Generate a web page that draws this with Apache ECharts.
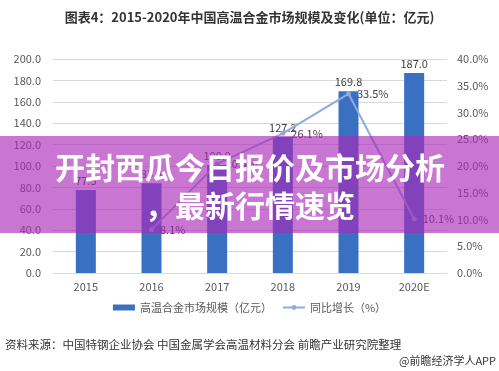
<!DOCTYPE html>
<html><head><meta charset="utf-8">
<script src="https://cdn.jsdelivr.net/npm/echarts@6/dist/echarts.min.js"></script>
<style>html,body{margin:0;padding:0;background:#fff}#c{width:499px;height:371px}</style>
</head><body><div id="c"></div>
<script>
const categories = ['2015','2016','2017','2018','2019','2020E'];
const marketSize = [77.5, 83.8, 100.9, 127.2, 169.8, 187.0];
const growth = [null, 8.1, 20.4, 26.1, 33.5, 10.1];
const leftTicks = {min:0, max:200, interval:20};
const rightTicks = {min:0, max:40, interval:5};
const titleText = '图表4：2015-2020年中国高温合金市场规模及变化(单位：亿元)';
const sourceText = '资料来源：中国特钢企业协会 中国金属学会高温材料分会 前瞻产业研究院整理';
const brandText = '@前瞻经济学人APP';
const bannerLines = ['开封西瓜今日报价及市场分析', '，最新行情速览'];

const font = '"Noto Sans CJK SC", "Noto Sans", sans-serif';
const chart = echarts.init(document.getElementById('c'), null, {renderer:'canvas'});
chart.setOption({
  animation:false,
  textStyle:{fontFamily:font},
  title:{text:titleText, left:'center', top:6, textStyle:{fontSize:13, fontWeight:'bold', color:'#333', fontFamily:font}},
  grid:{left:53, right:52, top:59, bottom:98},
  legend:{
    bottom:53, left:'center', itemGap:10, itemWidth:22, itemHeight:6,
    textStyle:{fontSize:11, color:'#595959'},
    data:[{name:'高温合金市场规模（亿元）', icon:'rect'}, {name:'同比增长（%）'}]
  },
  xAxis:{type:'category', data:categories,
    axisLine:{lineStyle:{color:'#d9d9d9'}}, axisTick:{show:false},
    axisLabel:{color:'#595959', fontSize:11, margin:8}},
  yAxis:[
    {type:'value', min:leftTicks.min, max:leftTicks.max, interval:leftTicks.interval,
     axisLine:{show:false}, axisTick:{show:false},
     splitLine:{lineStyle:{color:'#d9d9d9'}},
     axisLabel:{color:'#595959', fontSize:11, margin:12, formatter:v=>v.toFixed(1)}},
    {type:'value', min:rightTicks.min, max:rightTicks.max, interval:rightTicks.interval,
     axisLine:{show:false}, axisTick:{show:false}, splitLine:{show:false},
     axisLabel:{color:'#595959', fontSize:11, margin:10, formatter:v=>v.toFixed(1)+'%'}}
  ],
  series:[
    {name:'高温合金市场规模（亿元）', type:'bar', data:marketSize, barWidth:20,
     itemStyle:{color:'#3a70c2'},
     label:{show:true, position:'top', color:'#404040', fontSize:11, distance:4, formatter:p=>p.value.toFixed(1)}},
    {name:'同比增长（%）', type:'line', yAxisIndex:1, data:growth,
     symbol:'circle', symbolSize:5, showSymbol:true,
     lineStyle:{color:'#8faadc', width:2}, itemStyle:{color:'#8faadc'},
     label:{show:true, position:'right', color:'#404040', fontSize:11, distance:6, formatter:p=>p.value.toFixed(1)+'%'}}
  ],
  graphic:[
    {type:'text', left:5, top:339, style:{text:sourceText, fontSize:11.5, fill:'#333', fontFamily:font}},
    {type:'text', right:3, top:355, style:{text:brandText, fontSize:11, fill:'#333', fontFamily:font}},
    {type:'rect', z:100, shape:{x:0, y:136, width:499, height:97}, style:{fill:'rgba(170,40,185,0.64)'}},
    {type:'text', z:101, x:250, y:168, style:{text:bannerLines[0], fontSize:30, fontWeight:'bold', fill:'#fff', align:'center', verticalAlign:'middle', fontFamily:font, shadowColor:'rgba(0,0,0,0.45)', shadowBlur:4, shadowOffsetX:1, shadowOffsetY:1}},
    {type:'text', z:101, x:250, y:206, style:{text:bannerLines[1], fontSize:30, fontWeight:'bold', fill:'#fff', align:'center', verticalAlign:'middle', fontFamily:font, shadowColor:'rgba(0,0,0,0.45)', shadowBlur:4, shadowOffsetX:1, shadowOffsetY:1}}
  ]
});
</script></body></html>
